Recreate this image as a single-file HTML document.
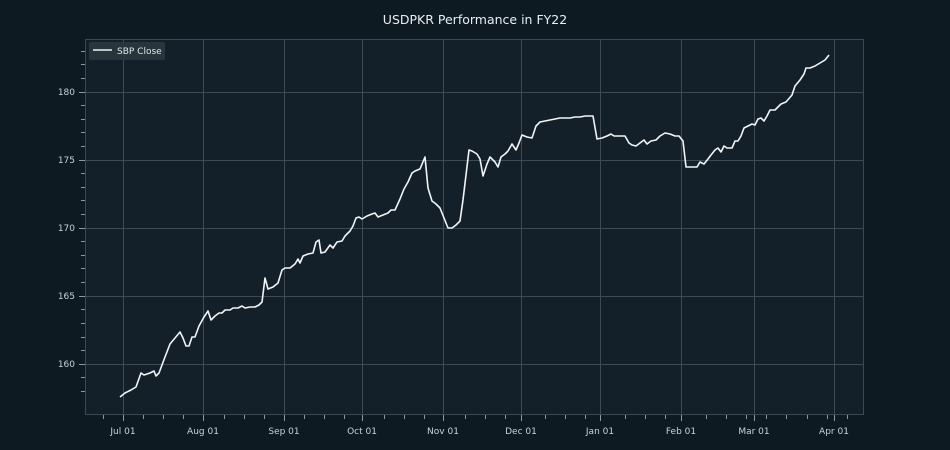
<!DOCTYPE html>
<html><head><meta charset="utf-8"><style>
html,body{margin:0;padding:0;background:#0e1a21;}
svg{display:block;font-family:"DejaVu Sans","Liberation Sans",sans-serif;}
</style></head><body>
<svg width="950" height="450" viewBox="0 0 950 450" xmlns="http://www.w3.org/2000/svg">
<rect width="950" height="450" fill="#0e1a21"/>
<rect x="85.5" y="39.5" width="778" height="375" fill="#13202a" stroke="#3a4a54" stroke-width="1"/>
<text x="475" y="24" fill="#e8eef2" font-size="12.5" text-anchor="middle">USDPKR Performance in FY22</text>
<g stroke="#3c4b54" stroke-width="1">
<line x1="123.5" y1="40" x2="123.5" y2="414"/><line x1="203.5" y1="40" x2="203.5" y2="414"/>
<line x1="284.5" y1="40" x2="284.5" y2="414"/><line x1="362.5" y1="40" x2="362.5" y2="414"/>
<line x1="443.5" y1="40" x2="443.5" y2="414"/><line x1="521.5" y1="40" x2="521.5" y2="414"/>
<line x1="600.5" y1="40" x2="600.5" y2="414"/><line x1="681.5" y1="40" x2="681.5" y2="414"/>
<line x1="754.5" y1="40" x2="754.5" y2="414"/><line x1="834.5" y1="40" x2="834.5" y2="414"/>
<line x1="86" y1="92.5" x2="863" y2="92.5"/><line x1="86" y1="160.5" x2="863" y2="160.5"/>
<line x1="86" y1="228.5" x2="863" y2="228.5"/><line x1="86" y1="296.5" x2="863" y2="296.5"/>
<line x1="86" y1="364.5" x2="863" y2="364.5"/>
</g>
<g stroke="#8a98a0" stroke-width="1">
<path d="M123.5 415v6M203.5 415v6M284.5 415v6M362.5 415v6M443.5 415v6M521.5 415v6M600.5 415v6M681.5 415v6M754.5 415v6M834.5 415v6"/>
<path d="M103.5 415v4M143.5 415v4M163.5 415v4M183.5 415v4M224.5 415v4M244.5 415v4M264.5 415v4M304.5 415v4M324.5 415v4M344.5 415v4M384.5 415v4M404.5 415v4M424.5 415v4M465.5 415v4M485.5 415v4M505.5 415v4M545.5 415v4M565.5 415v4M585.5 415v4M625.5 415v4M645.5 415v4M665.5 415v4M706.5 415v4M726.5 415v4M746.5 415v4M766.5 415v4M786.5 415v4M807.5 415v4M827.5 415v4M847.5 415v4"/>
<path d="M79 92.5h6M79 160.5h6M79 228.5h6M79 296.5h6M79 364.5h6"/>
<path d="M81 391.5h4M81 377.5h4M81 350.5h4M81 337.5h4M81 323.5h4M81 309.5h4M81 282.5h4M81 268.5h4M81 255.5h4M81 241.5h4M81 214.5h4M81 200.5h4M81 187.5h4M81 173.5h4M81 146.5h4M81 132.5h4M81 119.5h4M81 105.5h4M81 78.5h4M81 64.5h4M81 51.5h4"/>
</g>
<g fill="#c8d2d8" font-size="9" text-anchor="end">
<text x="75" y="95">180</text><text x="75" y="163">175</text><text x="75" y="231">170</text>
<text x="75" y="299">165</text><text x="75" y="367">160</text>
</g>
<g fill="#c8d2d8" font-size="9" text-anchor="middle">
<text x="123" y="434">Jul 01</text><text x="203" y="434">Aug 01</text><text x="284" y="434">Sep 01</text>
<text x="362" y="434">Oct 01</text><text x="443" y="434">Nov 01</text><text x="521" y="434">Dec 01</text>
<text x="600" y="434">Jan 01</text><text x="681" y="434">Feb 01</text><text x="754" y="434">Mar 01</text>
<text x="834" y="434">Apr 01</text>
</g>
<polyline fill="none" stroke="#f2f4f5" stroke-width="1.6" stroke-linejoin="round" points="120,397 125,393 131,390 136,387 141,373 144,375 150,373 154,371 156,376 159,373 165,357 170,344 175,338 180,332 183,338 186,346 189,346 192,337 195,337 199,326 204,317 208,311 211,320 215,316 219,313 222,313 225,310 230,310 233,308 238,308 242,306 245,308 250,307 255,307 259,305 262,302 265,278 268,289 273,287 278,283 282,270 285,268 290,268 295,264 298,259 300,263 303,256 308,254 313,253 316,242 319,240 321,253 325,252 330,245 333,248 337,242 342,241 345,236 350,231 353,226 356,218 359,217 362,219 367,216 372,214 375,213 378,217 383,215 388,213 391,210 395,210 400,199 404,189 408,182 412,173 415,171 420,169 425,157 428,188 432,201 436,204 440,208 444,218 448,228 452,228 456,225 460,221 463,200 466,175 469,150 472,151 477,154 480,159 483,176 487,164 490,157 495,162 498,167 501,157 505,154 508,151 512,144 516,150 519,143 522,135 527,137 532,138 536,126 540,122 545,121 550,120 555,119 560,118 565,118 570,118 575,117 580,117 585,116 590,116 593,116 597,139 602,138 607,136 611,134 614,136 618,136 621,136 625,136 629,143 632,145 636,146 640,143 644,140 647,144 651,141 656,140 660,136 665,133 670,134 675,136 679,136 683,141 686,167 692,167 697,167 700,162 704,164 708,159 711,155 715,150 718,148 721,152 724,146 727,148 732,148 735,141 738,141 741,136 744,128 748,126 752,124 755,125 758,119 761,118 764,121 767,116 770,110 775,110 778,107 781,104 786,102 792,95 795,86 800,80 804,74 806,68 810,68 815,66 820,63 825,60 829,55"/>
<rect x="89" y="42" width="76" height="18" rx="2" fill="#2a373f" opacity="0.9"/>
<line x1="93" y1="50" x2="112" y2="50" stroke="#f2f4f5" stroke-width="1.6"/>
<text x="117" y="54" fill="#e0e6ea" font-size="9">SBP Close</text>
</svg>
</body></html>
